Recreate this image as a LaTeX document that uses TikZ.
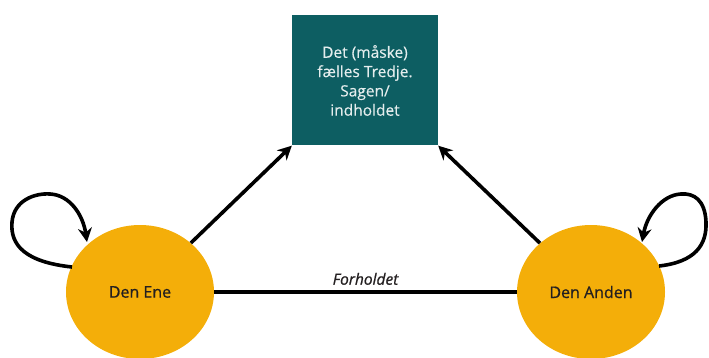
\documentclass[tikz,border=0pt]{standalone}
\usepackage{fontspec}
\setmainfont{Open Sans}
\newfontfamily\labelfont[FakeBold=0.8]{Open Sans}
\newfontfamily\boxfont[FakeBold=0.3]{Open Sans}
\usetikzlibrary{arrows.meta,shapes.geometric}
\definecolor{tealbox}{HTML}{0D5E62}
\definecolor{ambercirc}{HTML}{F4AE09}
\definecolor{boxtext}{HTML}{E4EDED}
\definecolor{inktext}{HTML}{231F20}
\tikzset{
  party/.style={ellipse, fill=ambercirc, minimum width=148pt, minimum height=134pt,
    inner sep=0pt, text=inktext, font=\labelfont\fontsize{16}{18}\selectfont},
  thirdbox/.style={rectangle, fill=tealbox, minimum width=146pt, minimum height=130pt,
    inner sep=0pt, text=boxtext, align=center, font=\boxfont\fontsize{15.5}{19.3}\selectfont},
  link/.style={line width=3.6pt, draw=black},
  arrowlink/.style={link, -{Stealth[length=14pt,width=14pt]}},
}
\begin{document}
\begin{tikzpicture}[x=1pt,y=-1pt]
  \useasboundingbox (0,0) rectangle (709,358);
  \begin{scope}
    \clip (0,0) rectangle (709,358);

    \node[thirdbox] (third) at (365,80.5) {Det (måske)\\fælles Tredje.\\Sagen/\\indholdet};
    \node[party] (ene) at (140,292) {Den Ene};
    \node[party] (anden) at (591,292) {Den Anden};

    % relation between the two parties
    \draw[link] (ene) -- node[above=2pt, text=inktext, font=\labelfont\fontsize{15.5}{17}\selectfont\itshape] (rel) {Forholdet} (anden);

    % both parties point to the shared third
    \draw[arrowlink] (ene) -- (third.south west);
    \draw[arrowlink] (anden) -- (third.south east);

    % self loops
    \coordinate (eneout) at (72,267);
    \coordinate (enein) at (87,242);
    \coordinate (andenout) at (659,266);
    \coordinate (andenin) at (642,242);
    \draw[arrowlink] (eneout) .. controls (25,262) and (10,245) .. (12,222)
      .. controls (14,200) and (35,193) .. (50,194)
      .. controls (70,195) and (83,215) .. (enein);
    \draw[arrowlink] (andenout) .. controls (695,262) and (707,245) .. (706,222)
      .. controls (705,200) and (694,193) .. (681,194)
      .. controls (662,195) and (647,215) .. (andenin);
  \end{scope}
\end{tikzpicture}
\end{document}
